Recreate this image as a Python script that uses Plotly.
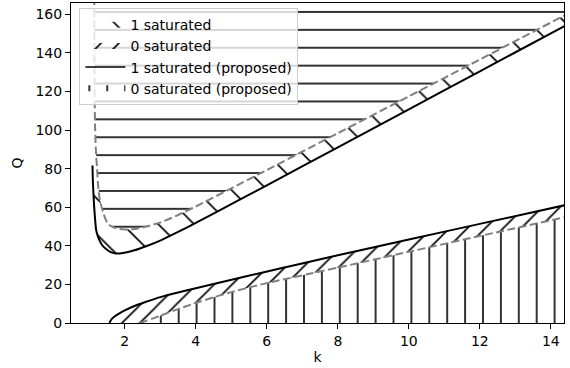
import plotly.graph_objects as go

# ---- data ----
# upper boundary curves
k_up_solid = [1.09, 1.10, 1.127, 1.15, 1.195, 1.25, 1.336, 1.42, 1.52, 1.62, 1.76, 1.95,
              2.27, 2.6, 3.03, 3.5, 4.0, 5.0, 6.0, 8.0, 10.0, 12.0, 14.4]
q_up_solid = [81.7, 74.0, 63.6, 57.0, 48.0, 44.5, 41.1, 39.2, 37.7, 36.6, 36.0, 36.3,
              37.7, 39.8, 43.0, 47.2, 51.9, 61.6, 71.4, 91.1, 110.8, 130.5, 154.1]

k_up_dash = [1.14, 1.15, 1.165, 1.19, 1.22, 1.25, 1.30, 1.40, 1.52, 1.65, 1.8, 2.0,
             2.27, 2.6, 3.03, 3.5, 4.0, 5.0, 6.0, 8.0, 10.0, 12.0, 14.4]
q_up_dash = [175.0, 120.0, 100.0, 88.0, 80.0, 71.0, 63.6, 56.7, 51.5, 49.8, 48.9, 48.5,
             48.7, 50.0, 52.3, 56.0, 60.4, 69.8, 79.3, 98.4, 117.5, 136.6, 159.6]

# lower boundary curves
k_lo_solid = [1.57, 1.62, 1.71, 1.85, 2.0, 2.27, 2.6, 3.0, 3.5, 4.0, 4.86, 5.8,
              6.93, 8.0, 10.0, 12.0, 14.4]
q_lo_solid = [0.0, 1.8, 3.4, 5.0, 6.5, 8.8, 11.0, 13.4, 15.8, 18.0, 21.8, 25.8,
              30.6, 35.1, 43.3, 51.4, 61.1]

k_lo_dash = [2.43, 2.6, 2.8, 3.03, 3.5, 4.0, 4.5, 5.0, 5.8, 6.5, 7.2, 8.0,
             10.0, 12.0, 14.4]
q_lo_dash = [0.0, 1.1, 2.4, 4.0, 7.2, 10.4, 13.3, 16.0, 19.8, 22.7, 25.5, 28.7,
             36.9, 45.1, 54.9]

labels = ["1 saturated", "0 saturated", "1 saturated (proposed)", "0 saturated (proposed)"]
x_ticks = [2, 4, 6, 8, 10, 12, 14]
y_ticks = [0, 20, 40, 60, 80, 100, 120, 140, 160]

X_RANGE = [0.485, 14.37]
Y_RANGE = [0, 165.9]
Q_TOP = 200.0

W, H = 570, 368
ML, MR, MT, MB = 71, 6, 3, 45
PW = W - ML - MR
PX_PER_K = PW / (X_RANGE[1] - X_RANGE[0])

HATCH = 17.9          # hatch spacing in px
LW = 1.6
FONT = "DejaVu Sans"

# ---- region polygons built from the curves ----
ud_rev = [(k, q) for k, q in zip(k_up_dash[::-1], q_up_dash[::-1])
          if not (k < 1.2 and q > q_up_solid[0])]
r1_x = k_up_solid + [p[0] for p in ud_rev]
r1_y = q_up_solid + [p[1] for p in ud_rev]

r0_x = k_lo_solid + k_lo_dash[::-1]
r0_y = q_lo_solid + q_lo_dash[::-1]

r1p_x = k_up_dash + [k_up_dash[-1], k_up_dash[0]]
r1p_y = q_up_dash + [Q_TOP, Q_TOP]

r0p_x = k_lo_dash + [k_lo_dash[-1]]
r0p_y = q_lo_dash + [0.0]

diag = HATCH / 2 ** 0.5


def pat(shape, size, lw):
    return dict(shape=shape, size=size, solidity=lw / size, fgcolor="black",
                fgopacity=1, bgcolor="rgba(0,0,0,0)", fillmode="overlay")


def shifted_axis(shift_px):
    """invisible x axis with identical scale whose origin is shifted (sets hatch phase)"""
    return dict(domain=[shift_px / PW, 1],
                range=[X_RANGE[0] + shift_px / PX_PER_K, X_RANGE[1]],
                anchor="y", visible=False, fixedrange=True)


fig = go.Figure()
# (x, y, name, pattern, axis, show in legend)
regions = [
    (r1_x, r1_y, labels[0], pat("\\", 2 * diag, LW), "x2", True),
    (r0_x, r0_y, labels[1], pat("/", diag, LW), "x3", True),
    (r1p_x, r1p_y, labels[2], pat("-", HATCH, LW), "x", False),
    (r0p_x, r0p_y, labels[3], pat("|", HATCH, LW), "x4", True),
]
for i, (x, y, name, fp, ax, show) in enumerate(regions):
    fig.add_trace(go.Scatter(x=x, y=y, mode="none", fill="toself",
                             fillcolor="rgba(0,0,0,0)", fillpattern=fp,
                             name=name, hoverinfo="skip", showlegend=show,
                             legendrank=i + 1, xaxis=ax, yaxis="y"))
    if not show:
        fig.add_trace(go.Scatter(x=[None], y=[None], mode="lines", name=name,
                                 line=dict(color="black", width=1.5),
                                 legendrank=i + 1))

for x, y, dashed in [(k_up_solid, q_up_solid, False), (k_lo_solid, q_lo_solid, False),
                     (k_up_dash, q_up_dash, True), (k_lo_dash, q_lo_dash, True)]:
    fig.add_trace(go.Scatter(
        x=x, y=y, mode="lines", showlegend=False, hoverinfo="skip",
        xaxis="x5", yaxis="y",
        line=dict(color="#808080" if dashed else "black", width=2,
                  dash="8px,3.5px" if dashed else "solid", shape="spline", smoothing=0.6)))

axis_common = dict(showline=True, linecolor="black", linewidth=1, mirror=True,
                   ticks="outside", ticklen=5, tickwidth=1, tickcolor="black",
                   showgrid=False, zeroline=False,
                   tickfont=dict(family=FONT, size=14, color="black"))

fig.update_layout(
    width=W, height=H,
    margin=dict(l=ML, r=MR, t=MT, b=MB),
    paper_bgcolor="white", plot_bgcolor="rgba(0,0,0,0)",
    font=dict(family=FONT, size=14, color="black"),
    xaxis=dict(range=X_RANGE, tickvals=x_ticks, domain=[0, 1],
               title=dict(text="k", font=dict(family=FONT, size=14), standoff=4),
               **axis_common),
    xaxis2=shifted_axis(9.3),
    xaxis3=shifted_axis(13.0),
    xaxis4=shifted_axis(9.25),
    xaxis5=dict(domain=[0, 1], range=X_RANGE, anchor="y", visible=False, fixedrange=True),
    yaxis=dict(range=Y_RANGE, tickvals=y_ticks,
               title=dict(text="Q", font=dict(family=FONT, size=14), standoff=9),
               **axis_common),
    legend=dict(x=0.017, y=0.984, xanchor="left", yanchor="top", itemwidth=40,
                bgcolor="rgba(255,255,255,0.8)", bordercolor="#cccccc", borderwidth=1,
                font=dict(family=FONT, size=14, color="black"), traceorder="normal"),
    showlegend=True,
)

fig.write_html("out.html", config={"displayModeBar": False},
               post_script="document.body.style.margin='0';document.body.style.padding='0';")
